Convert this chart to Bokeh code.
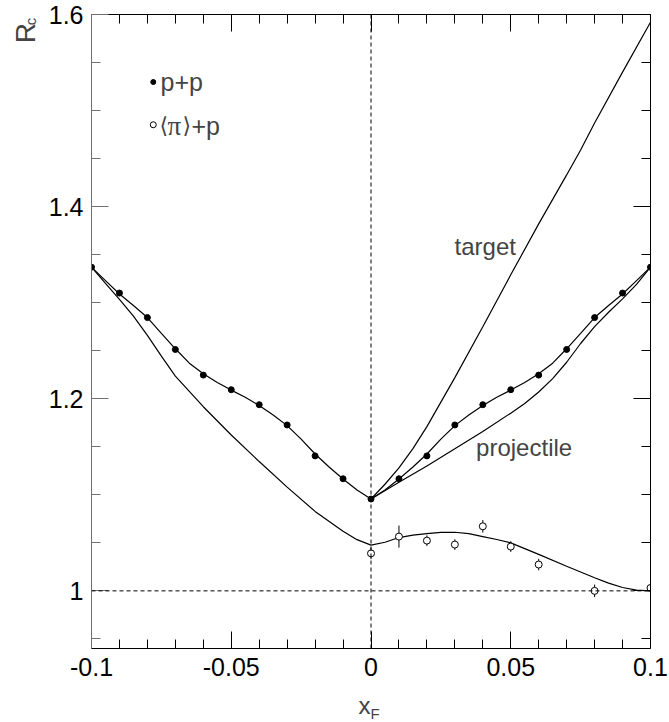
import math
from bokeh.plotting import figure
from bokeh.models import Range1d, FixedTicker, LinearAxis, Span, Label, NumeralTickFormatter
from bokeh.embed import file_html
from bokeh.resources import INLINE

# --- measured points -------------------------------------------------------
xf_pp = [-0.1, -0.09, -0.08, -0.07, -0.06, -0.05, -0.04, -0.03, -0.02, -0.01, 0.0,
         0.01, 0.02, 0.03, 0.04, 0.05, 0.06, 0.07, 0.08, 0.09, 0.1]
rc_pp = [1.337, 1.310, 1.2845, 1.2513, 1.2246, 1.2094, 1.1938, 1.1727, 1.1405, 1.1167, 1.0956,
         1.1167, 1.1405, 1.1727, 1.1938, 1.2094, 1.2246, 1.2513, 1.2845, 1.310, 1.337]

xf_pip = [0.0, 0.01, 0.02, 0.03, 0.04, 0.05, 0.06, 0.08, 0.1]
rc_pip = [1.039, 1.0565, 1.0523, 1.0482, 1.0672, 1.0461, 1.0274, 1.000, 1.003]
err_pip = [0.006, 0.0115, 0.0055, 0.0055, 0.0065, 0.0055, 0.006, 0.0065, 0.002]

# --- model curves ----------------------------------------------------------
xf_pp_fit = [-0.1, -0.095, -0.09, -0.085, -0.08, -0.075, -0.07, -0.065, -0.06, -0.055,
             -0.05, -0.045, -0.04, -0.035, -0.03, -0.025, -0.02, -0.015, -0.01, -0.005, 0.0,
             0.005, 0.01, 0.015, 0.02, 0.025, 0.03, 0.035, 0.04, 0.045, 0.05,
             0.055, 0.06, 0.065, 0.07, 0.075, 0.08, 0.085, 0.09, 0.095, 0.1]
rc_pp_fit = [1.337, 1.323, 1.309, 1.297, 1.2845, 1.268, 1.252, 1.237, 1.226, 1.217,
             1.209, 1.2015, 1.193, 1.183, 1.172, 1.158, 1.1425, 1.129, 1.1165, 1.105, 1.0956,
             1.105, 1.1165, 1.129, 1.1425, 1.158, 1.172, 1.183, 1.193, 1.2015, 1.209,
             1.217, 1.226, 1.237, 1.252, 1.268, 1.2845, 1.297, 1.309, 1.323, 1.337]

xf_target = [0.0, 0.005, 0.01, 0.015, 0.02, 0.03, 0.04, 0.05, 0.06, 0.07, 0.075, 0.08, 0.09, 0.1]
rc_target = [1.0956, 1.111, 1.128, 1.148, 1.171, 1.222, 1.275, 1.329, 1.382, 1.433, 1.459,
             1.487, 1.540, 1.592]

xf_proj = [0.0, 0.01, 0.02, 0.03, 0.04, 0.05, 0.055, 0.06, 0.065, 0.07, 0.075, 0.08,
           0.085, 0.09, 0.095, 0.1]
rc_proj = [1.0956, 1.113, 1.130, 1.148, 1.166, 1.185, 1.195, 1.207, 1.221, 1.238, 1.2575,
           1.275, 1.290, 1.304, 1.319, 1.337]

xf_pip_fit = [-0.1, -0.095, -0.09, -0.085, -0.08, -0.075, -0.07, -0.06, -0.05, -0.04, -0.03,
              -0.02, -0.01, -0.005, 0.0, 0.005, 0.01, 0.015, 0.02, 0.025, 0.03, 0.035, 0.04,
              0.045, 0.05, 0.055, 0.06, 0.07, 0.08, 0.085, 0.09, 0.095, 0.1]
rc_pip_fit = [1.337, 1.320, 1.3035, 1.286, 1.266, 1.2443, 1.2236, 1.1917, 1.1623, 1.1346, 1.108,
              1.0827, 1.062, 1.0533, 1.0476, 1.0506, 1.0555, 1.058, 1.0596, 1.0608, 1.061, 1.0595,
              1.0565, 1.0535, 1.050, 1.044, 1.038, 1.0256, 1.0136, 1.008, 1.0035, 1.0008, 1.000]

# --- axis ticks ------------------------------------------------------------
x_major = [-0.1, -0.05, 0.0, 0.05, 0.1]
x_minor = [-0.09, -0.08, -0.07, -0.06, -0.04, -0.03, -0.02, -0.01,
           0.01, 0.02, 0.03, 0.04, 0.06, 0.07, 0.08, 0.09]
y_major = [1.0, 1.2, 1.4, 1.6]
y_minor = [0.95, 1.05, 1.1, 1.15, 1.25, 1.3, 1.35, 1.45, 1.5, 1.55]

FONT = "Liberation Sans"

p = figure(width=669, height=722, output_backend="svg", toolbar_location=None,
           x_range=Range1d(-0.1, 0.1), y_range=Range1d(0.94, 1.6),
           min_border_left=91, min_border_right=19, min_border_top=14, min_border_bottom=74)
p.grid.visible = False
p.outline_line_color = None
p.background_fill_color = "white"
p.border_fill_color = "white"

p.add_layout(LinearAxis(), "above")
p.add_layout(LinearAxis(), "right")

fmt = NumeralTickFormatter(format="0.[00]")
for ax in p.xaxis:
    ax.ticker = FixedTicker(ticks=x_major, minor_ticks=x_minor)
for ax in p.yaxis:
    ax.ticker = FixedTicker(ticks=y_major, minor_ticks=y_minor)

for ax in list(p.xaxis) + list(p.yaxis):
    ax.formatter = fmt
    ax.major_tick_in = 17
    ax.major_tick_out = 0
    ax.minor_tick_in = 9
    ax.minor_tick_out = 0
    ax.axis_line_color = "black"
    ax.major_tick_line_color = "black"
    ax.minor_tick_line_color = "black"
    ax.major_label_text_font = FONT
    ax.major_label_text_font_size = "25px"
    ax.major_label_text_color = "black"

p.below[0].major_label_standoff = 9
p.left[0].major_label_standoff = 8
p.left[0].axis_line_color = "#707070"
p.left[0].major_tick_line_color = "#707070"
p.left[0].minor_tick_line_color = "#707070"
# mirrored frame axes carry ticks only
for ax in (p.above[0], p.right[0]):
    ax.major_label_text_font_size = "0px"
    ax.major_label_text_color = None
    ax.major_label_standoff = 0

# dashed reference lines
p.add_layout(Span(location=0.0, dimension="height", line_color="black",
                  line_width=1, line_dash="4 3"))
p.add_layout(Span(location=1.0, dimension="width", line_color="black",
                  line_width=1, line_dash="4 3"))

# curves
p.line(xf_pp_fit, rc_pp_fit, line_color="black", line_width=1.2)
p.line(xf_target, rc_target, line_color="black", line_width=1.2)
p.line(xf_proj, rc_proj, line_color="black", line_width=1.2)
p.line(xf_pip_fit, rc_pip_fit, line_color="black", line_width=1.2)

# data
p.segment(x0=xf_pip, x1=xf_pip,
          y0=[v - e for v, e in zip(rc_pip, err_pip)],
          y1=[v + e for v, e in zip(rc_pip, err_pip)],
          line_color="black", line_width=1)
p.scatter(xf_pp, rc_pp, marker="circle", size=6, fill_color="black", line_color="black")
p.scatter(xf_pip, rc_pip, marker="circle", size=7, fill_color="white", line_color="black",
          line_width=1)

# legend
p.scatter([-0.0779], [1.5297], marker="circle", size=5, fill_color="black", line_color="black")
p.scatter([-0.0779], [1.4852], marker="circle", size=6, fill_color="white", line_color="black")
p.add_layout(Label(x=-0.0753, y=1.5295, text="p+p", text_font=FONT, text_font_size="25px",
                   text_baseline="alphabetic", text_align="left"))
p.add_layout(Label(x=-0.0757, y=1.484, text="\u27e8", text_font="DejaVu Sans",
                   text_font_size="22px", text_baseline="alphabetic", text_align="left"))
p.add_layout(Label(x=-0.0757, y=1.484, x_offset=8, text="\u03c0", text_font="Liberation Serif",
                   text_font_size="27px", text_baseline="alphabetic", text_align="left"))
p.add_layout(Label(x=-0.0757, y=1.484, x_offset=23, text="\u27e9", text_font="DejaVu Sans",
                   text_font_size="22px", text_baseline="alphabetic", text_align="left"))
p.add_layout(Label(x=-0.0757, y=1.484, x_offset=32, text="+p", text_font=FONT,
                   text_font_size="25px", text_baseline="alphabetic", text_align="left"))

# curve annotations
p.add_layout(Label(x=0.0299, y=1.3585, text="target", text_font=FONT, text_font_size="24px",
                   text_baseline="alphabetic", text_align="left"))
p.add_layout(Label(x=0.0376, y=1.149, text="projectile", text_font=FONT, text_font_size="24px",
                   text_baseline="alphabetic", text_align="left"))

# axis titles, kept in side panels so they sit outside the frame
p.add_layout(Label(x=-0.1236, y=1.5702, text="R", angle=math.pi / 2, text_font=FONT,
                   text_font_size="28px", text_baseline="alphabetic", text_align="left"), "left")
p.add_layout(Label(x=-0.1218, y=1.5889, text="c", angle=math.pi / 2, text_font=FONT,
                   text_font_size="15px", text_baseline="alphabetic", text_align="left"), "right")
p.add_layout(Label(x=-0.00447, y=0.8811, text="x", text_font=FONT, text_font_size="24px",
                   text_baseline="alphabetic", text_align="left"), "below")
p.add_layout(Label(x=-0.00018, y=0.8728, text="F", text_font=FONT, text_font_size="15px",
                   text_baseline="alphabetic", text_align="left"), "below")

open("out.html", "w").write(file_html(p, INLINE))
